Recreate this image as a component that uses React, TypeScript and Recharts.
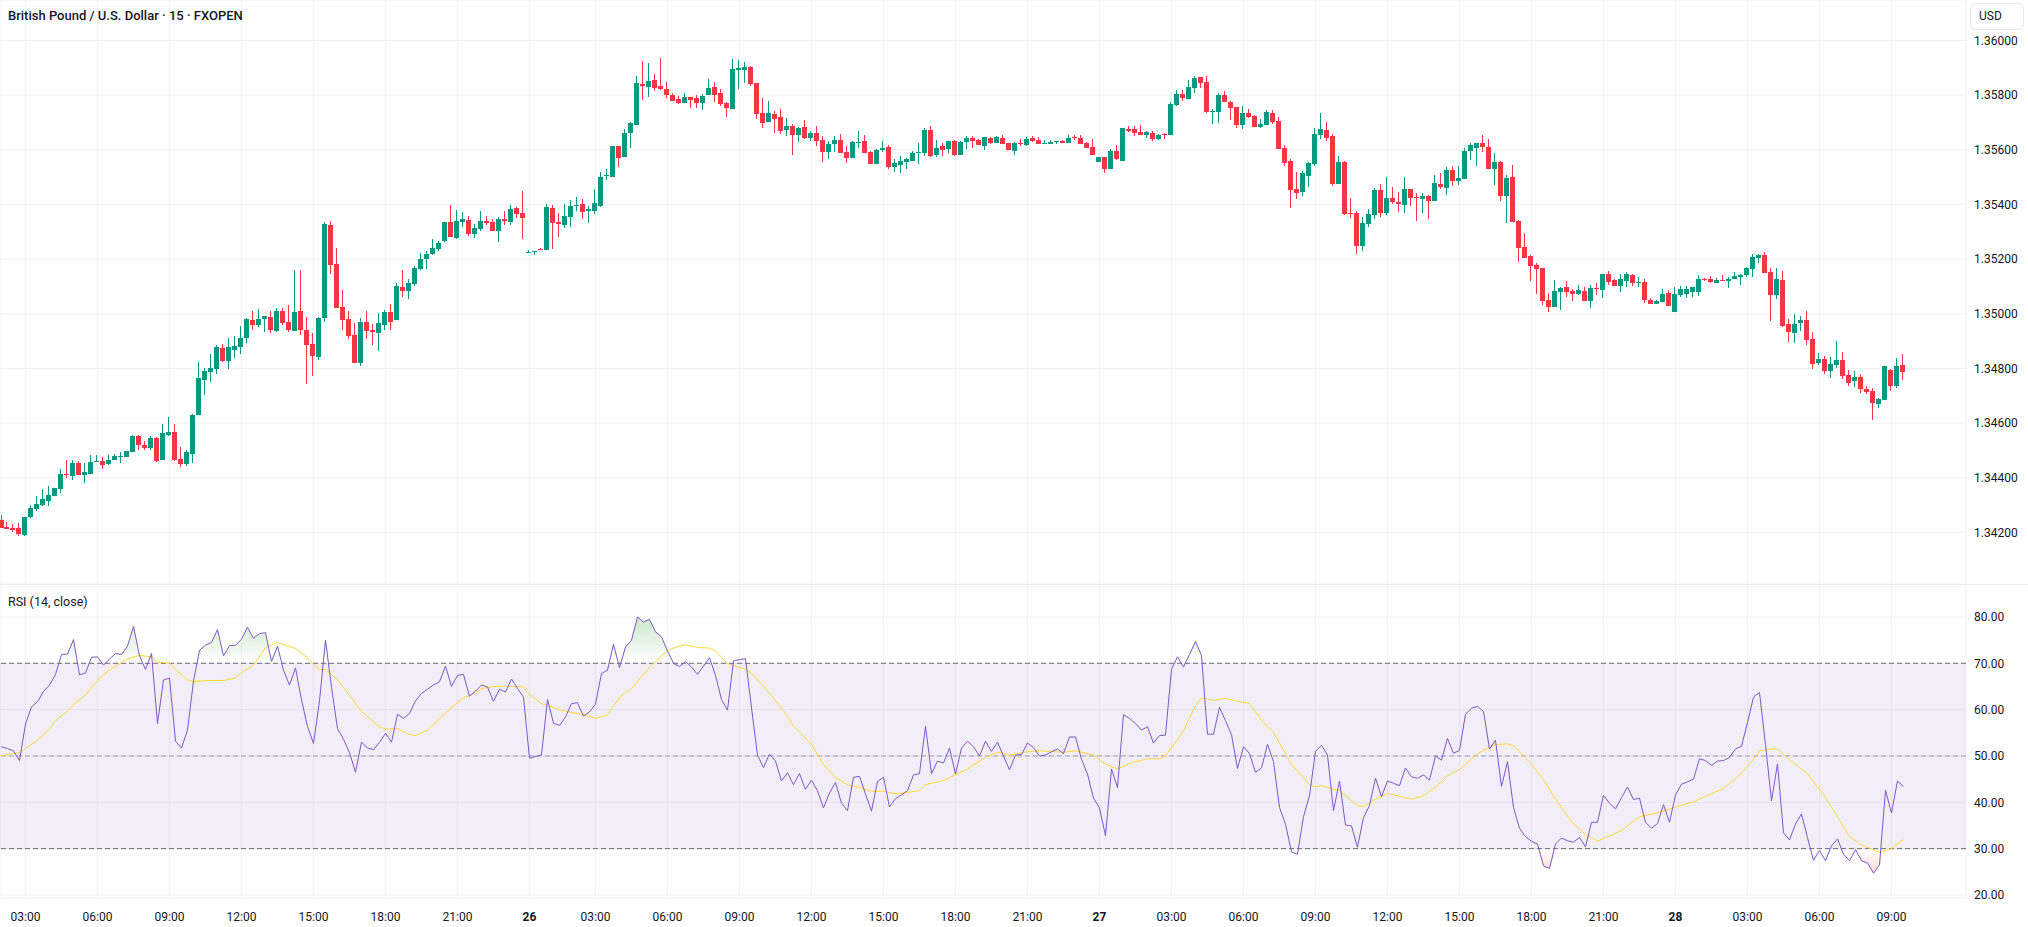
import React from "react";
import {
  Area,
  Bar,
  CartesianGrid,
  ComposedChart,
  Line,
  ReferenceArea,
  ReferenceLine,
  XAxis,
  YAxis,
} from "recharts";

// prices are kept in points (1.34245 -> 134245), one entry per 15 minute bar
const opens = [
  134245, 134220, 134216, 134216, 134190, 134256, 134286, 134300, 134315, 134333, 134359, 134414, 134406, 134454, 134410, 134414, 134458, 134461, 134450, 134465,
  134476, 134476, 134494, 134553, 134520, 134509, 134546, 134465, 134556, 134567, 134469, 134450, 134487, 134630, 134758, 134787, 134798, 134875, 134827, 134868,
  134879, 134912, 134977, 134959, 134981, 134988, 134937, 135010, 134970, 134937, 135010, 134941, 134890, 134842, 134985, 135325, 135182, 135025, 134981, 134922,
  134820, 134970, 134941, 134930, 134959, 135007, 134977, 135098, 135084, 135109, 135163, 135200, 135218, 135237, 135266, 135335, 135277, 135335, 135343, 135292,
  135310, 135339, 135335, 135303, 135346, 135335, 135387, 135368, 135222, 135226, 135237, 135233, 135387, 135335, 135324, 135354, 135394, 135401, 135376, 135376,
  135394, 135504, 135500, 135614, 135573, 135661, 135690, 135841, 135830, 135855, 135833, 135822, 135800, 135786, 135771, 135793, 135789, 135771, 135800, 135830,
  135808, 135771, 135749, 135892, 135892, 135903, 135844, 135734, 135701, 135731, 135720, 135672, 135687, 135654, 135683, 135643, 135661, 135636, 135592, 135621,
  135636, 135592, 135570, 135625, 135632, 135592, 135548, 135599, 135610, 135537, 135544, 135555, 135559, 135588, 135588, 135672, 135581, 135614, 135603, 135632,
  135581, 135628, 135643, 135636, 135614, 135643, 135625, 135643, 135625, 135596, 135625, 135617, 135643, 135636, 135621, 135621, 135628, 135632, 135625, 135647,
  135643, 135625, 135610, 135555, 135574, 135530, 135596, 135559, 135676, 135676, 135665, 135654, 135661, 135639, 135658, 135654, 135764, 135804, 135786, 135826,
  135866, 135848, 135739, 135739, 135801, 135775, 135757, 135691, 135735, 135724, 135684, 135691, 135735, 135706, 135607, 135559, 135457, 135446, 135504, 135548,
  135654, 135673, 135651, 135475, 135556, 135369, 135369, 135248, 135329, 135362, 135453, 135369, 135424, 135409, 135398, 135457, 135428, 135420, 135431, 135413,
  135475, 135461, 135526, 135486, 135493, 135596, 135607, 135625, 135611, 135530, 135556, 135431, 135501, 135340, 135245, 135212, 135179, 135168, 135051, 135025,
  135080, 135098, 135084, 135073, 135084, 135047, 135094, 135087, 135146, 135124, 135102, 135120, 135142, 135113, 135116, 135050, 135036, 135043, 135076, 135006,
  135069, 135072, 135080, 135080, 135127, 135127, 135113, 135124, 135120, 135127, 135135, 135142, 135164, 135204, 135215, 135153, 135069, 135124, 134963, 134930,
  134966, 134977, 134908, 134820, 134834, 134791, 134812, 134831, 134776, 134754, 134769, 134725, 134717, 134670, 134684, 134794, 134736, 134812,
];
const highs = [
  134264, 134238, 134231, 134234, 134256, 134300, 134333, 134359, 134370, 134363, 134432, 134465, 134465, 134461, 134454, 134483, 134483, 134476, 134483, 134487,
  134494, 134498, 134556, 134556, 134535, 134553, 134549, 134597, 134622, 134597, 134513, 134502, 134633, 134824, 134802, 134853, 134886, 134890, 134912, 134919,
  134955, 134985, 135010, 135018, 134992, 135010, 135021, 135021, 135032, 135160, 135160, 134988, 134930, 134988, 135336, 135340, 135241, 135087, 135010, 134966,
  134985, 135010, 134963, 135003, 135014, 135036, 135113, 135160, 135129, 135174, 135222, 135229, 135273, 135266, 135335, 135398, 135379, 135372, 135357, 135328,
  135376, 135357, 135346, 135354, 135376, 135398, 135390, 135449, 135233, 135229, 135240, 135401, 135398, 135368, 135401, 135416, 135427, 135420, 135394, 135456,
  135518, 135529, 135614, 135614, 135676, 135701, 135870, 135925, 135917, 135877, 135936, 135848, 135808, 135797, 135808, 135793, 135800, 135804, 135859, 135848,
  135822, 135775, 135932, 135928, 135921, 135906, 135844, 135789, 135778, 135742, 135749, 135716, 135694, 135683, 135709, 135669, 135687, 135650, 135632, 135650,
  135658, 135614, 135632, 135669, 135654, 135596, 135603, 135632, 135617, 135566, 135577, 135570, 135596, 135625, 135680, 135687, 135636, 135625, 135632, 135636,
  135632, 135650, 135650, 135639, 135647, 135647, 135650, 135654, 135625, 135628, 135639, 135647, 135650, 135647, 135636, 135636, 135632, 135636, 135654, 135654,
  135654, 135628, 135639, 135574, 135574, 135603, 135617, 135680, 135687, 135687, 135691, 135669, 135669, 135658, 135661, 135775, 135819, 135819, 135855, 135870,
  135866, 135870, 135750, 135808, 135816, 135779, 135757, 135761, 135750, 135728, 135713, 135746, 135746, 135720, 135618, 135567, 135519, 135523, 135556, 135680,
  135735, 135702, 135658, 135578, 135559, 135424, 135376, 135354, 135384, 135461, 135475, 135501, 135464, 135446, 135501, 135457, 135442, 135442, 135435, 135508,
  135515, 135537, 135541, 135541, 135607, 135625, 135625, 135654, 135640, 135589, 135559, 135508, 135545, 135343, 135296, 135215, 135186, 135168, 135076, 135124,
  135098, 135120, 135091, 135105, 135098, 135105, 135113, 135146, 135157, 135127, 135146, 135153, 135146, 135135, 135127, 135058, 135050, 135091, 135087, 135098,
  135102, 135102, 135098, 135142, 135131, 135138, 135131, 135142, 135135, 135153, 135146, 135171, 135219, 135219, 135226, 135168, 135168, 135157, 134981, 134999,
  134992, 135010, 134933, 134856, 134845, 134842, 134900, 134860, 134794, 134791, 134780, 134736, 134728, 134692, 134809, 134798, 134838, 134853,
];
const lows = [
  134216, 134212, 134201, 134187, 134187, 134253, 134278, 134297, 134297, 134333, 134344, 134399, 134392, 134410, 134381, 134414, 134458, 134432, 134447, 134465,
  134454, 134476, 134494, 134502, 134502, 134502, 134458, 134465, 134553, 134461, 134439, 134443, 134454, 134630, 134703, 134750, 134780, 134824, 134798, 134838,
  134853, 134893, 134941, 134952, 134933, 134930, 134933, 134959, 134933, 134937, 134922, 134743, 134772, 134831, 134970, 135146, 135021, 134941, 134908, 134820,
  134809, 134908, 134886, 134864, 134941, 134941, 134977, 135062, 135054, 135103, 135160, 135163, 135215, 135229, 135262, 135281, 135273, 135317, 135284, 135277,
  135303, 135324, 135303, 135262, 135324, 135324, 135350, 135273, 135222, 135215, 135233, 135233, 135237, 135281, 135314, 135317, 135376, 135346, 135332, 135365,
  135390, 135489, 135500, 135537, 135573, 135606, 135690, 135782, 135793, 135815, 135819, 135789, 135778, 135767, 135771, 135753, 135753, 135745, 135800, 135775,
  135760, 135720, 135749, 135822, 135844, 135833, 135712, 135680, 135701, 135661, 135658, 135650, 135581, 135628, 135639, 135632, 135614, 135555, 135566, 135592,
  135588, 135552, 135570, 135607, 135588, 135548, 135548, 135592, 135530, 135519, 135515, 135530, 135559, 135548, 135577, 135574, 135574, 135577, 135588, 135577,
  135581, 135603, 135607, 135617, 135599, 135621, 135625, 135621, 135599, 135581, 135614, 135614, 135628, 135621, 135621, 135621, 135621, 135625, 135625, 135636,
  135621, 135607, 135581, 135555, 135515, 135530, 135563, 135559, 135665, 135650, 135654, 135643, 135632, 135636, 135639, 135654, 135760, 135779, 135786, 135808,
  135826, 135735, 135695, 135698, 135775, 135709, 135680, 135676, 135717, 135684, 135680, 135691, 135695, 135603, 135541, 135387, 135420, 135431, 135464, 135541,
  135640, 135633, 135468, 135475, 135362, 135351, 135219, 135230, 135318, 135347, 135354, 135362, 135402, 135373, 135369, 135395, 135340, 135369, 135347, 135413,
  135457, 135435, 135468, 135471, 135493, 135563, 135541, 135592, 135530, 135471, 135413, 135332, 135336, 135190, 135204, 135120, 135073, 135032, 135007, 135025,
  135014, 135062, 135047, 135069, 135047, 135021, 135069, 135058, 135105, 135102, 135080, 135098, 135102, 135098, 135039, 135036, 135036, 135043, 135028, 135006,
  135061, 135058, 135061, 135065, 135120, 135113, 135113, 135120, 135094, 135127, 135105, 135135, 135135, 135186, 135149, 134974, 135054, 134952, 134897, 134893,
  134937, 134886, 134798, 134812, 134780, 134765, 134802, 134761, 134736, 134732, 134710, 134706, 134611, 134655, 134684, 134717, 134728, 134758,
];
const closes = [
  134216, 134212, 134209, 134194, 134256, 134289, 134304, 134322, 134337, 134363, 134414, 134410, 134454, 134410, 134421, 134458, 134461, 134447, 134465, 134480,
  134480, 134498, 134553, 134520, 134509, 134546, 134461, 134564, 134567, 134465, 134450, 134494, 134630, 134765, 134791, 134802, 134879, 134827, 134879, 134882,
  134912, 134981, 134959, 134981, 134992, 134941, 135010, 134966, 134941, 135007, 134941, 134886, 134846, 134985, 135329, 135179, 135021, 134977, 134919, 134820,
  134970, 134937, 134933, 134966, 135007, 134970, 135102, 135084, 135113, 135167, 135200, 135218, 135240, 135259, 135335, 135281, 135339, 135346, 135292, 135314,
  135339, 135332, 135303, 135346, 135339, 135383, 135365, 135350, 135226, 135229, 135233, 135390, 135332, 135328, 135357, 135394, 135398, 135372, 135383, 135405,
  135500, 135507, 135614, 135570, 135661, 135698, 135844, 135833, 135852, 135826, 135822, 135800, 135778, 135771, 135793, 135782, 135771, 135797, 135826, 135800,
  135767, 135753, 135895, 135899, 135903, 135841, 135731, 135698, 135734, 135712, 135669, 135687, 135654, 135680, 135643, 135661, 135632, 135592, 135621, 135636,
  135588, 135570, 135628, 135628, 135588, 135548, 135599, 135607, 135537, 135552, 135559, 135566, 135588, 135592, 135672, 135577, 135607, 135599, 135632, 135581,
  135628, 135643, 135632, 135617, 135647, 135625, 135647, 135621, 135599, 135625, 135621, 135639, 135632, 135621, 135625, 135628, 135632, 135625, 135643, 135643,
  135621, 135607, 135581, 135574, 135530, 135596, 135566, 135680, 135669, 135661, 135654, 135665, 135639, 135654, 135654, 135768, 135804, 135790, 135830, 135863,
  135845, 135739, 135742, 135801, 135775, 135753, 135691, 135735, 135720, 135684, 135695, 135739, 135702, 135603, 135552, 135453, 135442, 135515, 135552, 135658,
  135676, 135644, 135475, 135556, 135365, 135365, 135248, 135332, 135365, 135453, 135369, 135424, 135409, 135402, 135457, 135424, 135424, 135431, 135413, 135479,
  135464, 135526, 135486, 135497, 135596, 135618, 135625, 135611, 135530, 135556, 135431, 135497, 135336, 135241, 135204, 135175, 135164, 135047, 135025, 135084,
  135095, 135080, 135073, 135087, 135047, 135095, 135091, 135146, 135116, 135102, 135127, 135146, 135113, 135116, 135050, 135036, 135047, 135072, 135028, 135072,
  135091, 135091, 135098, 135127, 135124, 135116, 135124, 135120, 135127, 135138, 135142, 135168, 135208, 135215, 135149, 135069, 135127, 134955, 134933, 134963,
  134977, 134904, 134816, 134834, 134791, 134816, 134831, 134772, 134747, 134769, 134725, 134714, 134673, 134688, 134809, 134736, 134809, 134787,
];

const rsiValues = [
  52, 51.6, 51.1, 49, 56.9, 60.6, 61.7, 63.9, 65.3, 67.6, 71.9, 72, 75.1, 67.5, 67.9, 71.3, 71.4, 69.6, 70.9, 72.1,
  71.9, 73.7, 78, 71.6, 68.7, 72.1, 57, 66.4, 66.8, 53.2, 51.7, 55.6, 66.2, 72.8, 73.9, 74.5, 77.3, 71.6, 73.8, 73.9,
  75.2, 77.8, 75.4, 76.4, 76.6, 70.4, 73.7, 68.5, 65.3, 69, 62.1, 56.4, 52.7, 61.9, 75, 64.8, 55.9, 53.6, 50.7, 46.5,
  53, 51.7, 51.4, 52.9, 54.9, 53, 59, 58.1, 59.2, 61.9, 63.5, 64.4, 65.3, 66, 69.4, 65, 67.4, 67.6, 62.9, 64,
  65.3, 64.9, 61.8, 64.4, 63.8, 66.6, 64.6, 62.7, 49.5, 49.9, 50.2, 62.2, 57.1, 56.6, 58.4, 61.3, 61.5, 58.6, 59.5, 61.2,
  67.8, 68.5, 74.1, 69.1, 73.5, 75, 80, 78.9, 79.5, 76.8, 75.7, 72.7, 70, 69.3, 70.4, 69.2, 67.6, 69.4, 71.2, 67.4,
  62.2, 59.9, 70.5, 70.8, 71, 60.4, 50.2, 47.5, 50.4, 48.9, 44.6, 46.4, 43.8, 46.2, 42.8, 44.8, 42.5, 38.8, 42, 44.3,
  39.8, 38.2, 45.4, 45.6, 41.8, 38.1, 44.5, 45.4, 39, 40.8, 41.6, 42.5, 45.9, 46.2, 56.4, 46.2, 48.9, 48.5, 51.7, 46.1,
  51.7, 53.2, 52, 50, 53.2, 51, 53, 50, 47, 50.2, 50.3, 52.8, 51.8, 50, 50.2, 50.9, 51.5, 50.5, 54.1, 54.1,
  49.3, 46.1, 40.9, 38.8, 32.8, 47.2, 43.2, 58.9, 58.1, 57, 55.6, 56.3, 52.8, 54.4, 54.5, 68.7, 71.4, 69.2, 71.9, 74.7,
  71.7, 54.7, 54.7, 60.5, 57.6, 54.6, 47.3, 52, 50.5, 46.5, 47.4, 52.5, 48.8, 38.9, 35.3, 29.3, 28.8, 36.9, 41.4, 51,
  52.3, 50.2, 38.2, 44.6, 35.1, 34.9, 30.3, 36.7, 39.3, 45.2, 41.2, 44.6, 44.1, 43.6, 47.4, 45.5, 45.2, 45.9, 44.8, 50,
  49.1, 53.8, 50.6, 51.2, 59, 60.3, 60.7, 59.6, 51.5, 53.4, 43.4, 48.8, 38.9, 34.4, 32.6, 31.6, 31, 26.3, 25.7, 31,
  32.3, 31.7, 31.4, 32.4, 30.4, 35.7, 35.7, 41.5, 39.8, 38.6, 41, 43.3, 40.6, 40.9, 35.7, 34.4, 35.4, 39.5, 35.7, 41.6,
  43.9, 44.4, 45, 49.4, 49, 48, 48.9, 49, 49.7, 51.5, 52.1, 57.2, 62.7, 63.7, 52.5, 40.3, 48.3, 33.4, 31.9, 35.3,
  37.5, 32.4, 27.5, 29.6, 27.4, 30.6, 32.1, 28.8, 27.4, 29.8, 27.4, 26.9, 24.7, 26.5, 42.6, 37.7, 44.6, 43.4,
];

// RSI moving average, read at the bars below
const maBars = [
  0, 3, 6, 8, 9, 11, 12, 14, 16, 17, 19, 21, 23, 25, 26, 28, 29, 31, 32, 35, 37, 39, 40, 42, 44, 46, 48, 49, 51, 53, 54, 56, 57, 60, 63, 64, 66, 68, 69, 71,
  73, 75, 77, 78, 80, 82, 84, 87, 88, 90, 91, 94, 96, 99, 101, 103, 104, 105, 108, 111, 113, 114, 116, 118, 119, 121, 124, 125, 128, 130, 132, 135, 137, 139, 141, 143, 145, 147, 149, 153,
  154, 157, 161, 164, 166, 168, 171, 173, 177, 179, 182, 184, 186, 188, 191, 193, 194, 197, 198, 199, 200, 202, 204, 206, 208, 210, 212, 215, 218, 219, 220, 223, 226, 227, 229, 231, 235, 237, 239, 241,
  243, 246, 249, 251, 252, 255, 257, 259, 262, 264, 266, 270, 273, 276, 280, 282, 284, 287, 290, 292, 293, 295, 296, 298, 301, 304, 306, 308, 310, 313, 315, 317,
];
const maValues = [
  50.1, 50.7, 53.4, 55.8, 57.6, 59.7, 61, 63.2, 66.2, 67.6, 69.4, 70.9, 71.7, 71.4, 70.2, 70.1, 68.7, 66.4, 66.1, 66.3, 66.3, 66.8, 68, 69.6, 73.4, 74.5, 73.6, 73.2, 71.1, 68.6, 68.7, 66.4, 64.8, 59.6, 56.3, 55.8, 55.9, 54.6, 54.4, 55.6,
  58.1, 60.4, 62.6, 63, 64.5, 65, 65.1, 64.9, 63.3, 61.3, 60.9, 59.6, 59.2, 58.1, 58.9, 62.6, 63.7, 64.5, 69.2, 72.8, 73.7, 74, 73.4, 73.3, 72.7, 69.9, 68.7, 67.9, 63.5, 60.4, 56.5, 52.5, 48.2, 45.4, 43.8, 43.2, 42.4, 42.4, 41.8, 42.5,
  43.8, 44.7, 47.2, 49.7, 50.8, 50.2, 50.9, 51.1, 50.8, 51.1, 50.2, 48.2, 47.2, 48.4, 49.4, 49.4, 50, 55.4, 58.3, 60.8, 62.5, 62, 62.4, 61.8, 61.3, 57.7, 55.1, 48.2, 43.8, 43.3, 43.6, 42.5, 39.3, 39, 40.7, 41.9, 40.7, 41.4, 43.3, 45.7,
  47.1, 50.5, 52.5, 52.6, 52.2, 48.2, 44.9, 40.7, 35.3, 33.1, 31.6, 33.9, 36.9, 37.7, 39.4, 40.1, 41.3, 43, 46.2, 49.3, 51.1, 51.5, 51.5, 49.1, 46.2, 41, 36.9, 32.6, 30.8, 29.2, 30, 32,
];

const timeBars = [4, 16, 28, 40, 52, 64, 76, 88, 99, 111, 123, 135, 147, 159, 171, 183, 195, 207, 219, 231, 243, 255, 267, 279, 291, 303, 315];
const timeLabels = [
  "03:00", "06:00", "09:00", "12:00", "15:00", "18:00", "21:00", "26", "03:00", "06:00", "09:00", "12:00", "15:00", "18:00",
  "21:00", "27", "03:00", "06:00", "09:00", "12:00", "15:00", "18:00", "21:00", "28", "03:00", "06:00", "09:00",
];
const priceTicks = [134200, 134400, 134600, 134800, 135000, 135200, 135400, 135600, 135800, 136000];
const rsiTicks = [20, 30, 40, 50, 60, 70, 80];

const UP = "#089981";
const DOWN = "#f23645";
const GRID = "#f2f2f4";
const TEXT = "#131722";
const FONT = "Roboto, sans-serif";
const X_DOMAIN: [number, number] = [-0.25, 327.417];

const candleRows = opens.map((open, i) => ({
  bar: i,
  open,
  high: highs[i],
  low: lows[i],
  close: closes[i],
}));

const rsiRows = rsiValues.map((rsi, i) => {
  const maAt = maBars.indexOf(i);
  return {
    bar: i,
    rsi,
    ma: maAt >= 0 ? maValues[maAt] : null,
    over: [70, Math.max(rsi, 70)],
    under: [Math.min(rsi, 30), 30],
  };
});

function Candle(props: any) {
  const { x, y, width, height, payload } = props;
  const { open, high, low, close } = payload;
  const perPoint = height / (high - low);
  const yOf = (v: number) => y + (high - v) * perPoint;
  const color = close >= open ? UP : DOWN;
  const bodyTop = yOf(Math.max(open, close));
  const bodyH = Math.max(1, yOf(Math.min(open, close)) - bodyTop);
  return (
    <g shapeRendering="crispEdges">
      <rect x={x + width / 2 - 0.5} y={y} width={1} height={height} fill={color} />
      <rect x={x} y={bodyTop} width={width} height={bodyH} fill={color} />
    </g>
  );
}

function TimeTick(props: any) {
  const { x, y, payload } = props;
  const label = timeLabels[timeBars.indexOf(payload.value)];
  const isDay = label.length === 2;
  return (
    <text x={x} y={y + 15} textAnchor="middle" fontSize={12} fontFamily={FONT} fontWeight={isDay ? 700 : 400} fill={TEXT}>
      {label}
    </text>
  );
}

const axisTick = { fontSize: 12, fontFamily: FONT, fill: TEXT };

export default function App() {
  return (
    <div style={{ position: "absolute", left: 0, top: 0, width: 2028, height: 927, background: "#fff", overflow: "hidden" }}>
      <ComposedChart width={2028} height={584} data={candleRows} margin={{ top: 0, right: 0, bottom: 0, left: 0 }}>
        <CartesianGrid stroke={GRID} />
        <XAxis dataKey="bar" type="number" domain={X_DOMAIN} ticks={timeBars} interval={0} allowDataOverflow hide />
        <YAxis
          orientation="right"
          width={62}
          domain={[134011.7, 136148.2]}
          ticks={priceTicks}
          interval={0}
          allowDataOverflow
          axisLine={false}
          tickLine={false}
          tick={axisTick}
          tickFormatter={(v: number) => (v / 100000).toFixed(5)}
        />
        <Bar dataKey={(d: any) => [d.low, d.high]} barSize={5} shape={Candle} isAnimationActive={false} />
      </ComposedChart>

      <div style={{ position: "absolute", left: 0, top: 584, width: 2028, height: 1, background: "#ececef" }} />

      <div style={{ position: "absolute", top: 586, left: 0 }}>
        <ComposedChart width={2028} height={341} data={rsiRows} margin={{ top: 0, right: 0, bottom: 0, left: 0 }}>
          <defs>
            <linearGradient id="overFill" x1="0" y1="0" x2="0" y2="1">
              <stop offset="0%" stopColor="#4caf50" stopOpacity={0.3} />
              <stop offset="100%" stopColor="#4caf50" stopOpacity={0} />
            </linearGradient>
            <linearGradient id="underFill" x1="0" y1="0" x2="0" y2="1">
              <stop offset="0%" stopColor="#f23645" stopOpacity={0} />
              <stop offset="100%" stopColor="#f23645" stopOpacity={0.2} />
            </linearGradient>
          </defs>
          <CartesianGrid stroke={GRID} />
          <XAxis
            dataKey="bar"
            type="number"
            height={29}
            domain={X_DOMAIN}
            ticks={timeBars}
            interval={0}
            allowDataOverflow
            axisLine={false}
            tickLine={false}
            tick={TimeTick}
          />
          <YAxis
            orientation="right"
            width={62}
            domain={[19.35, 86.68]}
            ticks={rsiTicks}
            interval={0}
            allowDataOverflow
            axisLine={false}
            tickLine={false}
            tick={axisTick}
            tickFormatter={(v: number) => v.toFixed(2)}
          />
          <ReferenceArea y1={30} y2={70} fill="#7e57c2" fillOpacity={0.1} stroke="none" />
          <ReferenceLine y={70} stroke="#6a6d78" strokeDasharray="5 3" />
          <ReferenceLine y={50} stroke="#787b86" strokeOpacity={0.65} strokeDasharray="5 3" />
          <ReferenceLine y={30} stroke="#6a6d78" strokeDasharray="5 3" />
          <Area type="linear" dataKey="over" stroke="none" fill="url(#overFill)" fillOpacity={1} dot={false} activeDot={false} isAnimationActive={false} />
          <Area type="linear" dataKey="under" stroke="none" fill="url(#underFill)" fillOpacity={1} dot={false} activeDot={false} isAnimationActive={false} />
          <Line type="linear" dataKey="ma" stroke="#fdd835" strokeWidth={1} dot={false} activeDot={false} connectNulls isAnimationActive={false} />
          <Line type="linear" dataKey="rsi" stroke="#7e57c2" strokeWidth={1} dot={false} activeDot={false} isAnimationActive={false} />
        </ComposedChart>
      </div>

      <div style={{ position: "absolute", left: 8, top: 8, fontFamily: FONT, fontSize: 13, fontWeight: 500, lineHeight: "16px", color: TEXT, whiteSpace: "nowrap" }}>
        British Pound / U.S. Dollar · 15 · FXOPEN
      </div>
      <div style={{ position: "absolute", left: 8, top: 594, fontFamily: FONT, fontSize: 12.5, lineHeight: "16px", color: TEXT, whiteSpace: "nowrap" }}>
        RSI (14, close)
      </div>
      <div
        style={{
          position: "absolute",
          left: 1970,
          top: 3,
          width: 54,
          height: 27,
          boxSizing: "border-box",
          border: "1px solid #e8e9ec",
          borderRadius: 6,
          fontFamily: FONT,
          fontSize: 12,
          lineHeight: "25px",
          paddingLeft: 8,
          color: TEXT,
        }}
      >
        USD
      </div>
    </div>
  );
}
